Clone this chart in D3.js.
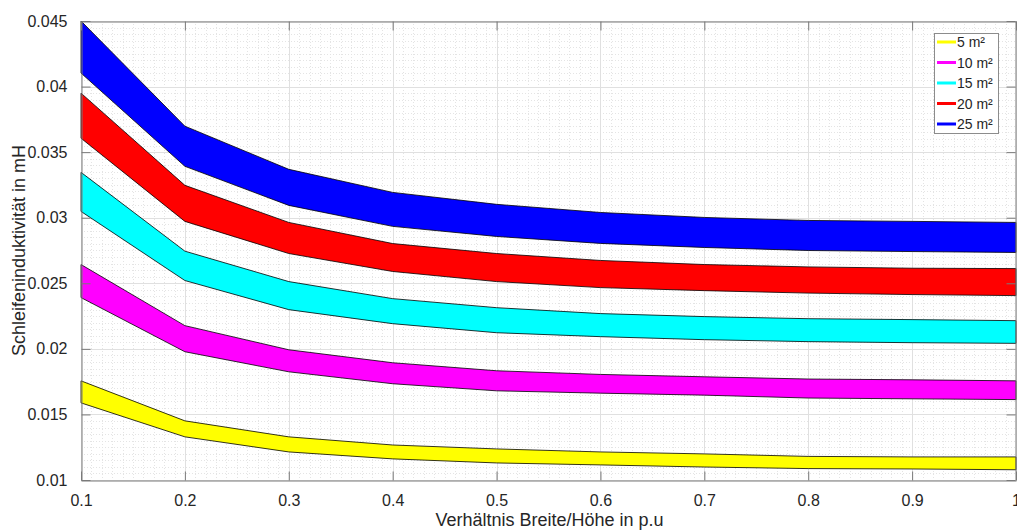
<!DOCTYPE html>
<html>
<head>
<meta charset="utf-8">
<script src="https://cdn.jsdelivr.net/npm/d3@7"></script>
<style>
  html, body { margin: 0; padding: 0; background: #fff; }
  svg { display: block; font-family: "Liberation Sans", Arial, Helvetica, sans-serif; }
</style>
</head>
<body>
<svg id="chart" width="1017" height="530"></svg>
<script>
// Width/height ratio (p.u.)
const ratios = [0.1, 0.2, 0.3, 0.4, 0.5, 0.6, 0.7, 0.8, 0.9, 1.0];

// Loop areas (legend labels) and band colours
const areaLabels = ["5 m²", "10 m²", "15 m²", "20 m²", "25 m²"];
const areaColors = ["#ffff00", "#ff00ff", "#00ffff", "#ff0000", "#0000ff"];

// Loop inductance in mH: upper and lower limit of each band
const upper5  = [0.01756, 0.01451, 0.01329, 0.01267, 0.01237, 0.01214, 0.01199, 0.01180, 0.01176, 0.01176];
const lower5  = [0.01588, 0.01329, 0.01214, 0.01161, 0.01130, 0.01115, 0.01099, 0.01087, 0.01084, 0.01078];
const upper10 = [0.02643, 0.02177, 0.01993, 0.01894, 0.01833, 0.01805, 0.01787, 0.01770, 0.01764, 0.01756];
const lower10 = [0.02391, 0.01978, 0.01825, 0.01734, 0.01680, 0.01662, 0.01647, 0.01625, 0.01619, 0.01613];
const upper15 = [0.03346, 0.02745, 0.02513, 0.02383, 0.02314, 0.02269, 0.02246, 0.02230, 0.02223, 0.02215];
const lower15 = [0.03048, 0.02521, 0.02299, 0.02192, 0.02123, 0.02093, 0.02070, 0.02055, 0.02047, 0.02042];
const upper20 = [0.03950, 0.03247, 0.02964, 0.02803, 0.02727, 0.02674, 0.02643, 0.02625, 0.02615, 0.02612];
const lower20 = [0.03606, 0.02972, 0.02727, 0.02590, 0.02513, 0.02467, 0.02444, 0.02425, 0.02414, 0.02406];
const upper25 = [0.04500, 0.03698, 0.03369, 0.03193, 0.03102, 0.03040, 0.03002, 0.02979, 0.02972, 0.02964];
const lower25 = [0.04103, 0.03392, 0.03094, 0.02934, 0.02857, 0.02804, 0.02773, 0.02750, 0.02742, 0.02735];

const upperLimits = [upper5, upper10, upper15, upper20, upper25];
const lowerLimits = [lower5, lower10, lower15, lower20, lower25];

// Tick labels
const xTicks = [0.1, 0.2, 0.3, 0.4, 0.5, 0.6, 0.7, 0.8, 0.9, 1];
const xTickLabels = ["0.1", "0.2", "0.3", "0.4", "0.5", "0.6", "0.7", "0.8", "0.9", "1"];
const yTicks = [0.01, 0.015, 0.02, 0.025, 0.03, 0.035, 0.04, 0.045];
const yTickLabels = ["0.01", "0.015", "0.02", "0.025", "0.03", "0.035", "0.04", "0.045"];

const xLabel = "Verhältnis Breite/Höhe in p.u";
const yLabel = "Schleifeninduktivität in mH";

// ---- layout ----
const plotLeft = 81, plotRight = 1016, plotTop = 21, plotBottom = 480;
const svg = d3.select("#chart");

const x = d3.scaleLinear().domain([0.1, 1]).range([plotLeft, plotRight]);
const y = d3.scaleLinear().domain([0.01, 0.045]).range([plotBottom, plotTop]);

const axisColor = "#7a7a7a";
const textColor = "#262626";

// ---- grid ----
const grid = svg.append("g");
const xMinor = d3.range(11, 100).map(i => i / 100).filter(v => Math.round(v * 100) % 10 !== 0);
const yMinor = d3.range(21, 90).map(i => i / 2000).filter(v => Math.round(v * 2000) % 10 !== 0);

grid.selectAll(".xminor").data(xMinor).join("line")
  .attr("x1", d => Math.round(x(d)) + 0.5).attr("x2", d => Math.round(x(d)) + 0.5)
  .attr("y1", plotTop).attr("y2", plotBottom)
  .attr("stroke", "#e4e4e4").attr("stroke-width", 1).attr("stroke-dasharray", "1,2");
grid.selectAll(".yminor").data(yMinor).join("line")
  .attr("y1", d => Math.round(y(d)) + 0.5).attr("y2", d => Math.round(y(d)) + 0.5)
  .attr("x1", plotLeft).attr("x2", plotRight)
  .attr("stroke", "#e4e4e4").attr("stroke-width", 1).attr("stroke-dasharray", "1,2");
grid.selectAll(".xmajor").data(xTicks).join("line")
  .attr("x1", d => Math.round(x(d)) + 0.5).attr("x2", d => Math.round(x(d)) + 0.5)
  .attr("y1", plotTop).attr("y2", plotBottom)
  .attr("stroke", "#e0e0e0").attr("stroke-width", 1);
grid.selectAll(".ymajor").data(yTicks).join("line")
  .attr("y1", d => Math.round(y(d)) + 0.5).attr("y2", d => Math.round(y(d)) + 0.5)
  .attr("x1", plotLeft).attr("x2", plotRight)
  .attr("stroke", "#e0e0e0").attr("stroke-width", 1);

// ---- bands ----
const bands = areaLabels.map((label, i) => ({
  label,
  color: areaColors[i],
  points: ratios.map((r, j) => ({ r, lo: lowerLimits[i][j], hi: upperLimits[i][j] }))
}));

const area = d3.area()
  .x(d => x(d.r))
  .y0(d => y(d.lo))
  .y1(d => y(d.hi));

svg.append("g").selectAll("path").data(bands).join("path")
  .attr("d", d => area(d.points))
  .attr("fill", d => d.color)
  .attr("stroke", "#000")
  .attr("stroke-width", 0.8)
  .attr("stroke-linejoin", "round");

// ---- axes ----
const xAxis = d3.axisBottom(x).tickValues(xTicks)
  .tickFormat((d, i) => xTickLabels[i]).tickSizeInner(-9).tickSizeOuter(0).tickPadding(14);
const yAxis = d3.axisLeft(y).tickValues(yTicks)
  .tickFormat((d, i) => yTickLabels[i]).tickSizeInner(-9).tickSizeOuter(0).tickPadding(14);
const xAxisTop = d3.axisTop(x).tickValues(xTicks).tickFormat("").tickSizeInner(-9).tickSizeOuter(0);
const yAxisRight = d3.axisRight(y).tickValues(yTicks).tickFormat("").tickSizeInner(-9).tickSizeOuter(0);

function styleAxis(g) {
  g.select(".domain").attr("stroke", axisColor).attr("stroke-width", 1);
  g.selectAll(".tick line").attr("stroke", axisColor).attr("stroke-width", 1);
  g.selectAll(".tick text").attr("fill", textColor).attr("font-size", 16)
    .attr("font-family", '"Liberation Sans", Arial, sans-serif');
}

svg.append("g").attr("transform", `translate(0,${plotBottom + 0.5})`).call(xAxis).call(styleAxis);
svg.append("g").attr("transform", `translate(${plotLeft + 0.5},0)`).call(yAxis).call(styleAxis);
svg.append("g").attr("transform", `translate(0,${plotTop + 0.5})`).call(xAxisTop).call(styleAxis);
svg.append("g").attr("transform", `translate(${plotRight - 0.5},0)`).call(yAxisRight).call(styleAxis);

// ---- axis titles ----
svg.append("text")
  .attr("x", (plotLeft + plotRight) / 2 + 1).attr("y", 526)
  .attr("text-anchor", "middle").attr("fill", textColor).attr("font-size", 18)
  .text(xLabel);

svg.append("text")
  .attr("transform", `translate(25,${(plotTop + plotBottom) / 2}) rotate(-90)`)
  .attr("text-anchor", "middle").attr("fill", textColor).attr("font-size", 18)
  .text(yLabel);

// ---- legend ----
const legend = svg.append("g").attr("transform", "translate(934,33)");
legend.append("rect")
  .attr("x", 0.5).attr("y", 0.5).attr("width", 64).attr("height", 100)
  .attr("fill", "#fff").attr("stroke", "#8c8c8c").attr("stroke-width", 1);

const rows = legend.selectAll(".row").data(bands).join("g")
  .attr("transform", (d, i) => `translate(0,${9 + i * 20.5})`);
rows.append("line")
  .attr("x1", 3).attr("x2", 22).attr("y1", 0).attr("y2", 0)
  .attr("stroke", d => d.color).attr("stroke-width", 3);
rows.append("text")
  .attr("x", 23).attr("y", 0).attr("dy", "0.36em")
  .attr("fill", textColor).attr("font-size", 14)
  .text(d => d.label);
</script>
</body>
</html>
